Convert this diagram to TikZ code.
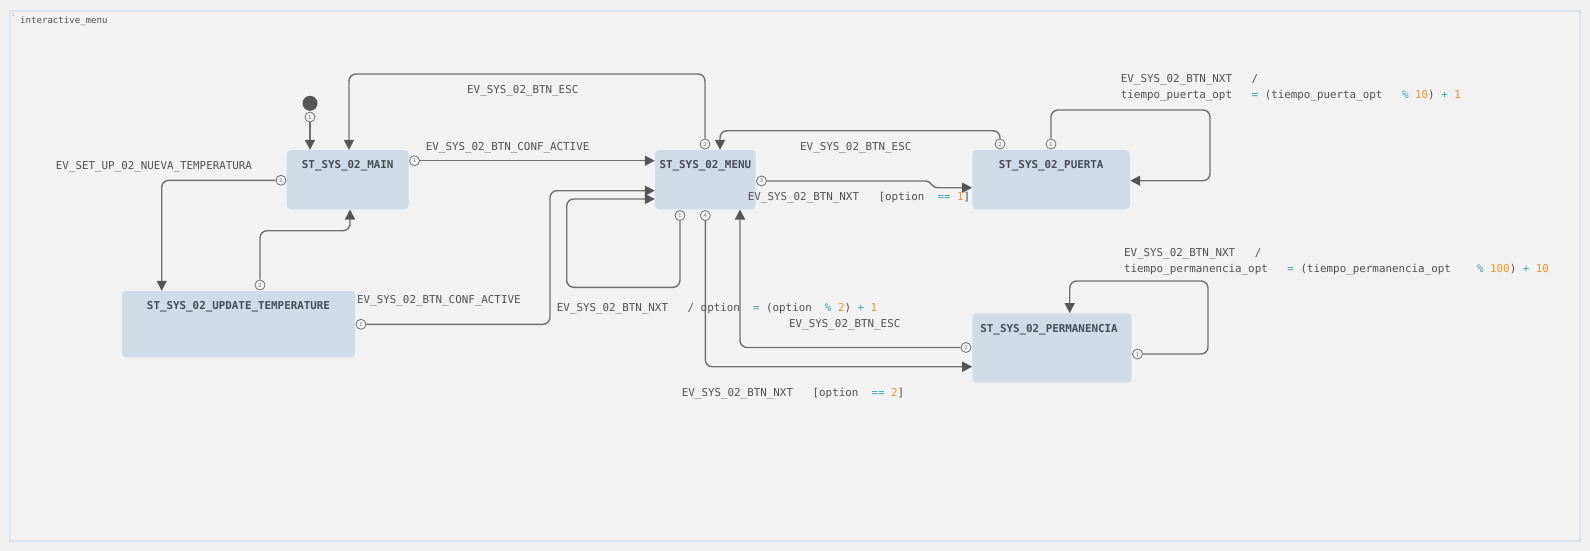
\documentclass[tikz,border=0pt]{standalone}
\usepackage{fontspec}
\setmonofont{DejaVu Sans Mono}
\usetikzlibrary{arrows.meta}

\definecolor{bgc}{HTML}{F0F0F0}
\definecolor{framec}{HTML}{F2F2F2}
\definecolor{frameline}{HTML}{DCE4EE}
\definecolor{boxc}{HTML}{CFDCE8}
\definecolor{txtc}{HTML}{505050}
\definecolor{titlec}{HTML}{464C54}
\definecolor{linec}{HTML}{707070}
\definecolor{arrc}{HTML}{555555}
\definecolor{opc}{HTML}{3AA6A6}
\definecolor{numc}{HTML}{F0922B}

\newcommand\opx[1]{\textcolor{opc}{#1}}
\newcommand\numx[1]{\textcolor{numc}{#1}}

\tikzset{
  statebox/.style={fill=boxc, rounded corners=4pt, inner sep=0pt, draw=none},
  title/.style={font=\ttfamily\bfseries\fontsize{10.86}{13}\selectfont, text=titlec, anchor=base, inner sep=0pt},
  lbl/.style={font=\ttfamily\fontsize{10.86}{13}\selectfont, text=txtc, anchor=base west, inner sep=0pt},
  port/.style={circle, draw=linec, fill=framec, line width=0.8pt, minimum size=10pt, inner sep=0pt,
    font=\sffamily\fontsize{6}{6}\selectfont, text=linec},
  edge/.style={draw=linec, line width=1.4pt, rounded corners=7pt,
    -{Triangle[length=10pt,width=10pt,color=arrc]}},
}

\begin{document}
\begin{tikzpicture}[x=1pt,y=-1pt]
\useasboundingbox (0,0) rectangle (1590,551);
\fill[bgc] (0,0) rectangle (1590,551);
\draw[frameline, line width=1.5pt, fill=framec] (10,11) rectangle (1580,541);
\node[font=\sffamily\fontsize{4}{4}\selectfont, text=black!45, inner sep=0pt] (mark) at (13.5,15) {1};
\node[font=\ttfamily\fontsize{9.07}{11}\selectfont, text=txtc, anchor=base west, inner sep=0pt] (frametitle) at (20,24) {interactive\_menu};

% states
\node[statebox, minimum width=122pt, minimum height=59.3pt] (main) at (347.7,179.65) {};
\node[statebox, minimum width=100.7pt, minimum height=59.3pt] (menu) at (705.35,179.65) {};
\node[statebox, minimum width=157.7pt, minimum height=59.3pt] (puerta) at (1051.15,179.65) {};
\node[statebox, minimum width=233pt, minimum height=66.3pt] (update) at (238.5,324.15) {};
\node[statebox, minimum width=159.3pt, minimum height=69.4pt] (perm) at (1052.05,348) {};

\node[title] (main-t) at ([yshift=-19pt]main.north) {ST\_SYS\_02\_MAIN};
\node[title] (menu-t) at ([yshift=-19pt]menu.north) {ST\_SYS\_02\_MENU};
\node[title] (puerta-t) at ([yshift=-19pt]puerta.north) {ST\_SYS\_02\_PUERTA};
\node[title] (update-t) at ([yshift=-19pt]update.north) {ST\_SYS\_02\_UPDATE\_TEMPERATURE};
\node[title] (perm-t) at ([yshift=-19pt,xshift=-3pt]perm.north) {ST\_SYS\_02\_PERMANENCIA};

% initial pseudo state
\node[circle, fill=arrc, minimum size=15pt, inner sep=0pt] (init) at (310,103.3) {};

% ports
\node[port] (pinit) at (310,117) {1};
\node[port] (mainp1) at (414.5,160.7) {1};
\node[port] (mainp2) at (281,180.3) {2};
\node[port] (menup2) at (705,144) {2};
\node[port] (menup3) at (761.5,181) {3};
\node[port] (menup1) at (680,215.5) {1};
\node[port] (menup4) at (705.3,215.5) {4};
\node[port] (puertap2) at (1000,144) {2};
\node[port] (puertap1) at (1051,144) {1};
\node[port] (updp2) at (260,285) {2};
\node[port] (updp1) at (361,324.3) {1};
\node[port] (permp2) at (966,347.5) {2};
\node[port] (permp1) at (1137.5,354) {1};

% transitions
\draw[edge] (pinit.south) -- (main.north -| pinit);
\draw[edge] (mainp1.east) -- (menu.west |- mainp1);
\draw[edge] (mainp2.west) -- (161.7,180.3) -- (update.north -| 161.7,0);
\draw[edge] (menup2.north) -- (705,74) -- (349,74) -- (main.north -| 349,0);
\draw[edge] (updp2.north) -- (260,230.7) -- (350,230.7) -- (main.south -| 350,0);
\draw[edge] (updp1.east) -- (550,324.3) -- (550,190.7) -- (menu.west |- 0,190.7);
\draw[edge] (menup1.south) -- (680,287.3) -- (566.7,287.3) -- (566.7,199) -- (menu.west |- 0,199);
\draw[edge, sharp corners] (menup3.east) -- (925,181) .. controls (932,181) and (931,187.7) .. (938,187.7) -- (puerta.west |- 0,187.7);
\draw[edge] (menup4.south) -- (705.3,366.7) -- (perm.west |- 0,366.7);
\draw[edge] (puertap2.north) -- (1000,130.7) -- (720,130.7) -- (menu.north -| 720,0);
\draw[edge] (puertap1.north) -- (1051,110) -- (1210,110) -- (1210,180.7) -- (puerta.east |- 0,180.7);
\draw[edge] (permp2.west) -- (740,347.5) -- (menu.south -| 740,0);
\draw[edge] (permp1.east) -- (1208,354) -- (1208,281) -- (1069.7,281) -- (perm.north -| 1069.7,0);

% transition labels
\node[lbl] (l-nueva) at (55.7,169) {EV\_SET\_UP\_02\_NUEVA\_TEMPERATURA};
\node[lbl] (l-esc1) at (467,93.3) {EV\_SYS\_02\_BTN\_ESC};
\node[lbl] (l-conf1) at (425.7,150) {EV\_SYS\_02\_BTN\_CONF\_ACTIVE};
\node[lbl] (l-esc2) at (800,150) {EV\_SYS\_02\_BTN\_ESC};
\node[lbl] (l-opt1) at (747.7,200) {EV\_SYS\_02\_BTN\_NXT~~~[option~~\opx{==}~\numx{1}]};
\node[lbl] (l-pu1) at (1120.7,82.3) {EV\_SYS\_02\_BTN\_NXT~~~/};
\node[lbl] (l-pu2) at (1120.7,98) {tiempo\_puerta\_opt~~~\opx{=}~(tiempo\_puerta\_opt~~~\opx{\%}~\numx{10})~\opx{+}~\numx{1}};
\node[lbl] (l-conf2) at (357,303.3) {EV\_SYS\_02\_BTN\_CONF\_ACTIVE};
\node[lbl] (l-loop) at (556.7,311.3) {EV\_SYS\_02\_BTN\_NXT~~~/~option~~\opx{=}~(option~~\opx{\%}~\numx{2})~\opx{+}~\numx{1}};
\node[lbl] (l-esc3) at (789,327.3) {EV\_SYS\_02\_BTN\_ESC};
\node[lbl] (l-opt2) at (681.7,396.3) {EV\_SYS\_02\_BTN\_NXT~~~[option~~\opx{==}~\numx{2}]};
\node[lbl] (l-pe1) at (1123.8,256.7) {EV\_SYS\_02\_BTN\_NXT~~~/};
\node[lbl] (l-pe2) at (1123.8,272.3) {tiempo\_permanencia\_opt~~~\opx{=}~(tiempo\_permanencia\_opt~~~~\opx{\%}~\numx{100})~\opx{+}~\numx{10}};
\end{tikzpicture}
\end{document}
